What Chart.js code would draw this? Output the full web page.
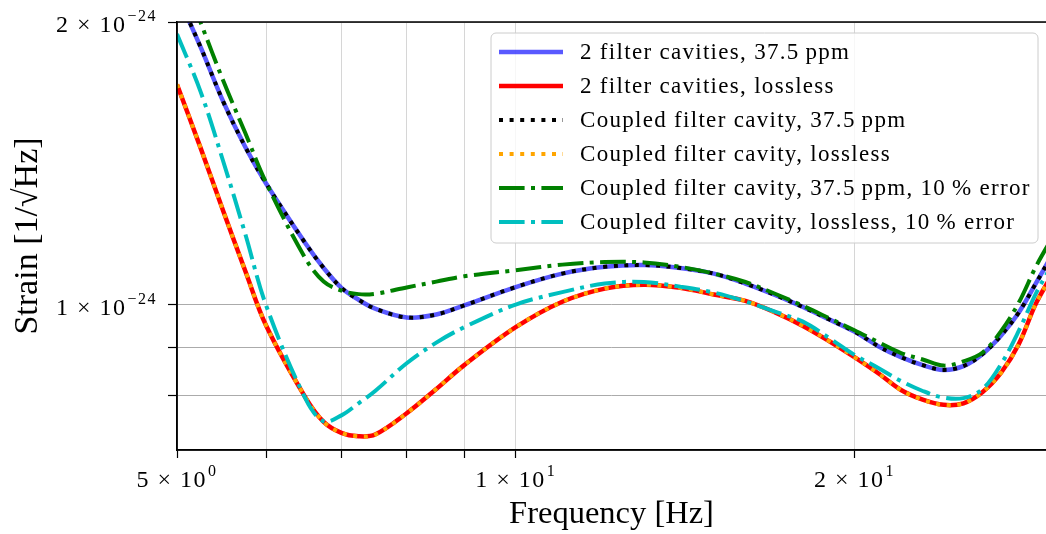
<!DOCTYPE html>
<html>
<head>
<meta charset="utf-8">
<title>Strain sensitivity</title>
<script src="https://cdn.jsdelivr.net/npm/chart.js"></script>
<style>
  body { margin: 0; background: #ffffff; }
  .chart-box { width: 1046px; height: 534px; }
</style>
</head>
<body>
<div class="chart-box"><canvas id="strainChart" width="1046" height="534"></canvas></div>
<script>
// frequency grid [Hz]
const freqHz = [5, 5.25, 5.5, 5.75, 6, 6.5, 6.75, 7, 7.25, 7.5, 8, 8.5, 9, 10, 11, 12, 13, 14, 15, 16, 17, 18, 19, 20, 21, 22, 23, 24, 25, 26, 27, 28, 29, 30];

// strain in units of 1e-24 / sqrt(Hz)
const twoCav375 = [2.141, 1.878, 1.642, 1.472, 1.346, 1.163, 1.094, 1.042, 1.012, 0.990, 0.969, 0.976, 0.998, 1.044, 1.079, 1.097, 1.102, 1.094, 1.079, 1.053, 1.024, 0.994, 0.964, 0.936, 0.903, 0.879, 0.862, 0.852, 0.860, 0.886, 0.927, 0.981, 1.054, 1.132];
const twoCavLossless = [1.716, 1.466, 1.255, 1.086, 0.950, 0.797, 0.750, 0.730, 0.724, 0.727, 0.766, 0.813, 0.862, 0.946, 1.007, 1.040, 1.050, 1.042, 1.025, 1.009, 0.981, 0.949, 0.914, 0.879, 0.845, 0.811, 0.792, 0.782, 0.785, 0.807, 0.846, 0.908, 1.003, 1.078];
const coupled375 = [2.141, 1.878, 1.642, 1.472, 1.346, 1.163, 1.094, 1.042, 1.012, 0.990, 0.969, 0.976, 0.998, 1.044, 1.079, 1.097, 1.102, 1.094, 1.079, 1.053, 1.024, 0.994, 0.964, 0.936, 0.903, 0.879, 0.862, 0.852, 0.860, 0.886, 0.927, 0.981, 1.054, 1.132];
const coupledLossless = [1.716, 1.466, 1.255, 1.086, 0.950, 0.797, 0.750, 0.730, 0.724, 0.727, 0.766, 0.813, 0.862, 0.946, 1.007, 1.040, 1.050, 1.042, 1.025, 1.009, 0.981, 0.949, 0.914, 0.879, 0.845, 0.811, 0.792, 0.782, 0.785, 0.807, 0.846, 0.908, 1.003, 1.078];
const coupled375Err = [2.325, 1.995, 1.728, 1.523, 1.349, 1.121, 1.058, 1.035, 1.026, 1.027, 1.043, 1.058, 1.072, 1.088, 1.103, 1.110, 1.109, 1.097, 1.079, 1.057, 1.027, 0.997, 0.967, 0.939, 0.912, 0.888, 0.874, 0.861, 0.870, 0.889, 0.937, 1.005, 1.098, 1.180];
const coupledLosslessErr = [1.942, 1.683, 1.417, 1.189, 0.998, 0.795, 0.751, 0.762, 0.785, 0.809, 0.866, 0.911, 0.946, 1.000, 1.031, 1.053, 1.057, 1.045, 1.030, 1.008, 0.983, 0.959, 0.921, 0.884, 0.856, 0.829, 0.809, 0.796, 0.795, 0.813, 0.864, 0.938, 1.028, 1.105];

const seriesLabels = [
  '2 filter cavities, 37.5\u2009ppm',
  '2 filter cavities, lossless',
  'Coupled filter cavity, 37.5\u2009ppm',
  'Coupled filter cavity, lossless',
  'Coupled filter cavity, 37.5\u2009ppm, 10\u2009% error',
  'Coupled filter cavity, lossless, 10\u2009% error'
];

// tick positions; labels are [mantissa part, exponent] or null for minor ticks
const xTickValues = [5, 6, 7, 8, 9, 10, 20];
const xTickLabels = [['5 × 10', '0'], null, null, null, null, ['1 × 10', '1'], ['2 × 10', '1']];
const yTickValues = [0.8, 0.9, 1, 2];
const yTickLabels = [null, null, ['1 × 10', '\u221224'], ['2 × 10', '\u221224']];

const UNIT = 1e-24;
const SERIF = '"Liberation Serif", "DejaVu Serif", serif';

function pts(arr) {
  return arr.map((v, i) => ({ x: freqHz[i], y: v * UNIT }));
}

const DOT = [4, 6.6];
const DASHDOT = [25.6, 6.4, 4, 6.4];

const datasets = [
  { label: seriesLabels[0], data: pts(twoCav375), borderColor: 'rgba(0,0,255,0.65)', borderWidth: 4.5, order: 6 },
  { label: seriesLabels[1], data: pts(twoCavLossless), borderColor: '#ff0000', borderWidth: 4.5, order: 5 },
  { label: seriesLabels[2], data: pts(coupled375), borderColor: '#000000', borderWidth: 4, borderDash: DOT, order: 4 },
  { label: seriesLabels[3], data: pts(coupledLossless), borderColor: '#ffa500', borderWidth: 4, borderDash: DOT, order: 3 },
  { label: seriesLabels[4], data: pts(coupled375Err), borderColor: '#008000', borderWidth: 4, borderDash: DASHDOT, order: 2 },
  { label: seriesLabels[5], data: pts(coupledLosslessErr), borderColor: '#00bfbf', borderWidth: 4, borderDash: DASHDOT, order: 1 }
];
datasets.forEach(d => {
  d.pointRadius = 0;
  d.fill = false;
  d.tension = 0.35;
  d.clip = 0;
});

// "a × 10" followed by a raised exponent; align is 'center' or 'right'
function drawPowerLabel(ctx, parts, x, baseY, align) {
  ctx.letterSpacing = '1.5px';
  ctx.font = '24px ' + SERIF;
  const wBase = ctx.measureText(parts[0]).width;
  ctx.font = '16px ' + SERIF;
  const wExp = ctx.measureText(parts[1]).width;
  const total = wBase + 1 + wExp;
  const x0 = align === 'center' ? x - total / 2 : x - total;
  ctx.textAlign = 'left';
  ctx.textBaseline = 'alphabetic';
  ctx.font = '24px ' + SERIF;
  ctx.fillText(parts[0], x0, baseY);
  ctx.font = '16px ' + SERIF;
  ctx.fillText(parts[1], x0 + wBase + 1, baseY - 11);
  ctx.letterSpacing = '0px';
}

// spines above the curves, tick labels and the framed key
const frameAndKey = {
  id: 'frameAndKey',
  afterDraw(chart) {
    const { ctx, chartArea: a, scales } = chart;
    ctx.save();
    ctx.strokeStyle = '#000';
    ctx.lineWidth = 1.5;
    ctx.beginPath();
    ctx.moveTo(a.left, a.bottom);
    ctx.lineTo(a.left, a.top);
    ctx.lineTo(a.right, a.top);
    ctx.moveTo(a.left, a.bottom);
    ctx.lineTo(a.right, a.bottom);
    ctx.stroke();

    ctx.fillStyle = '#000';
    xTickValues.forEach((v, i) => {
      if (xTickLabels[i]) drawPowerLabel(ctx, xTickLabels[i], scales.x.getPixelForValue(v), a.bottom + 37, 'center');
    });
    yTickValues.forEach((v, i) => {
      if (yTickLabels[i]) drawPowerLabel(ctx, yTickLabels[i], a.left - 20, scales.y.getPixelForValue(v * UNIT) + 10, 'right');
    });

    const bx = 491, by = 33, bw = 547, bh = 210, r = 5;
    ctx.beginPath();
    ctx.moveTo(bx + r, by);
    ctx.lineTo(bx + bw - r, by);
    ctx.arcTo(bx + bw, by, bx + bw, by + r, r);
    ctx.lineTo(bx + bw, by + bh - r);
    ctx.arcTo(bx + bw, by + bh, bx + bw - r, by + bh, r);
    ctx.lineTo(bx + r, by + bh);
    ctx.arcTo(bx, by + bh, bx, by + bh - r, r);
    ctx.lineTo(bx, by + r);
    ctx.arcTo(bx, by, bx + r, by, r);
    ctx.closePath();
    ctx.fillStyle = 'rgba(255,255,255,0.8)';
    ctx.fill();
    ctx.strokeStyle = '#cccccc';
    ctx.lineWidth = 1;
    ctx.stroke();

    ctx.font = '23px ' + SERIF;
    ctx.letterSpacing = '1.3px';
    ctx.textBaseline = 'middle';
    ctx.textAlign = 'left';
    chart.data.datasets.forEach((ds, i) => {
      const y = 52 + i * 34;
      ctx.beginPath();
      ctx.setLineDash(ds.borderDash || []);
      ctx.strokeStyle = ds.borderColor;
      ctx.lineWidth = ds.borderWidth;
      ctx.moveTo(499, y);
      ctx.lineTo(563, y);
      ctx.stroke();
      ctx.setLineDash([]);
      ctx.fillStyle = '#000';
      ctx.fillText(ds.label, 580, y + 1);
    });
    ctx.letterSpacing = '0px';
    ctx.restore();
  }
};

new Chart(document.getElementById('strainChart'), {
  type: 'line',
  data: { datasets: datasets },
  options: {
    responsive: false,
    animation: false,
    devicePixelRatio: 1,
    layout: { padding: { top: 22, right: 0, bottom: 0, left: 0 } },
    plugins: { legend: { display: false }, tooltip: { enabled: false } },
    scales: {
      x: {
        type: 'logarithmic',
        min: 5,
        max: 29.6,
        afterBuildTicks: s => { s.ticks = xTickValues.map(v => ({ value: v })); },
        afterFit: s => { s.height = 84; },
        ticks: { display: false, autoSkip: false },
        grid: { color: '#d6d6d6', lineWidth: 1, tickColor: '#000', tickLength: 8, tickWidth: 1.2 },
        border: { color: '#000', width: 1.5 },
        title: {
          display: true,
          text: 'Frequency [Hz]',
          color: '#000',
          font: { family: SERIF, size: 32.5 },
          padding: { top: 0, bottom: 0 }
        }
      },
      y: {
        type: 'logarithmic',
        min: 0.70 * UNIT,
        max: 2 * UNIT,
        afterBuildTicks: s => { s.ticks = yTickValues.map(v => ({ value: v * UNIT })); },
        afterFit: s => { s.width = 177; },
        ticks: { display: false, autoSkip: false },
        grid: { color: '#ababab', lineWidth: 1, tickColor: '#000', tickLength: 9, tickWidth: 1.2 },
        border: { color: '#000', width: 1.5 },
        title: {
          display: true,
          text: 'Strain [1/√Hz]',
          color: '#000',
          font: { family: SERIF, size: 34 },
          padding: { top: 8, bottom: 0 }
        }
      }
    }
  },
  plugins: [frameAndKey]
});
</script>
</body>
</html>
